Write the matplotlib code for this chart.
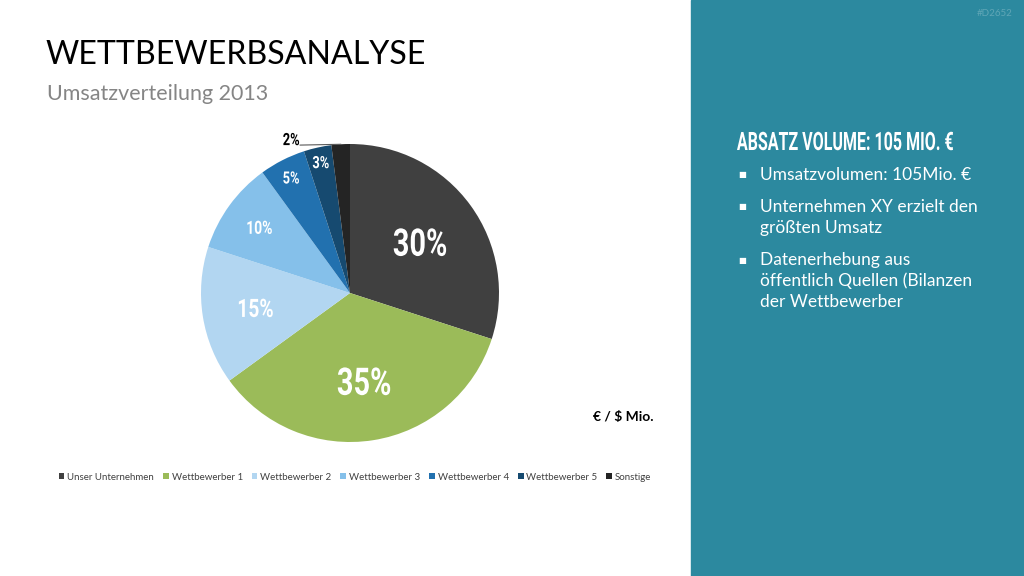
import matplotlib.pyplot as plt
from matplotlib.patches import Rectangle, PathPatch
from matplotlib.textpath import TextPath
from matplotlib.font_manager import FontProperties
from matplotlib.transforms import Affine2D
import numpy as np

# ── data ─────────────────────────────────────────────────────────────────────
categories = ["Unser Unternehmen", "Wettbewerber 1", "Wettbewerber 2",
              "Wettbewerber 3", "Wettbewerber 4", "Wettbewerber 5", "Sonstige"]
shares = [30, 35, 15, 10, 5, 3, 2]
colors = ["#404040", "#9BBB59", "#B2D6F1", "#85C0EA", "#2271AF", "#164A70", "#242424"]

# label styling per slice: cap height (px), radial distance, colour
label_caps = [27, 27, 18, 13, 12, 12, 12]
label_dist = [0.58, 0.60, 0.64, 0.75, 0.87, 0.90, 1.035]
label_colors = ["white"] * 6 + ["black"]

bullets = ["Umsatzvolumen: 105Mio. €",
           "Unternehmen XY erzielt den\ngrößten Umsatz",
           "Datenerhebung aus\nöffentlich Quellen (Bilanzen\nder Wettbewerber"]

W, H = 1024, 576
BODY = ["Lato", "DejaVu Sans"]
NARROW_FP = FontProperties(family=["Roboto", "DejaVu Sans"], weight="bold")
CAP = 0.71  # cap height / em


def narrow_text(ax, x, y, s, cap_px, color, sx=0.76, ha="center", width=None):
    """condensed bold text drawn as a squeezed path (no narrow font installed)"""
    tp = TextPath((0, 0), s, size=cap_px / CAP, prop=NARROW_FP)
    bb = tp.get_extents()
    if width is not None:
        sx = width / bb.width
    x0 = bb.x0 if ha == "left" else (bb.x0 + bb.x1) / 2
    tr = (Affine2D().translate(-x0, -(bb.y0 + bb.y1) / 2)
          .scale(sx, -1).translate(x, y))
    ax.add_patch(PathPatch(tr.transform_path(tp), facecolor=color,
                           edgecolor="none", zorder=5))


fig = plt.figure(figsize=(W / 100, H / 100), dpi=100)
fig.patch.set_facecolor("white")

# background panel
panel = fig.add_axes([0, 0, 1, 1], zorder=0)
panel.set_xlim(0, W)
panel.set_ylim(H, 0)
panel.axis("off")
panel.add_patch(Rectangle((691, 0), W - 691, H, color="#2C899F", zorder=0))

# ── pie ──────────────────────────────────────────────────────────────────────
cx, cy, r = 350, 293, 149
ax = fig.add_axes([(cx - r) / W, (H - cy - r) / H, 2 * r / W, 2 * r / H], zorder=1)
wedges, _ = ax.pie(shares, colors=colors, startangle=90, counterclock=False,
                   wedgeprops=dict(linewidth=0))
ax.set_xlim(-1, 1)
ax.set_ylim(-1, 1)
ax.set_aspect("equal")
ax.axis("off")

# text overlay in pixel coordinates (y down)
bg = fig.add_axes([0, 0, 1, 1], zorder=2)
bg.set_xlim(0, W)
bg.set_ylim(H, 0)
bg.axis("off")

bg.text(45, 55, "WETTBEWERBSANALYSE", fontsize=23.1, family=BODY,
        color="black", va="center")
bg.text(47, 94, "Umsatzverteilung 2013", fontsize=15.5, family=BODY,
        color="#858585", va="center")
bg.text(1013, 14, "#D2652", fontsize=7, family=BODY, color="#5FA6B6",
        ha="right", va="center")

narrow_text(bg, 737, 141, "ABSATZ VOLUME: 105 MIO. €", 18, "white",
            ha="left", width=216)
y = 175
for b in bullets:
    bg.text(742, y, "■", fontsize=6, family=["DejaVu Sans"], color="white",
            va="center", ha="center")
    bg.text(760, y - 8, b, fontsize=12.5, family=BODY, color="white",
            va="top", linespacing=1.36)
    y += 21 * (b.count("\n") + 1) + 11

bg.text(623, 417, "€ / $ Mio.", fontsize=10, family=BODY, fontweight="bold",
        color="black", ha="center", va="center")

for w, pct, cap, d, c in zip(wedges, shares, label_caps, label_dist, label_colors):
    ang = np.deg2rad((w.theta1 + w.theta2) / 2)
    lx, ly = cx + d * r * np.cos(ang), cy - d * r * np.sin(ang)
    if d > 1:
        # outside label with leader line
        lx -= 0.33 * r
        ex, ey = cx + r * np.cos(ang), cy - r * np.sin(ang)
        bg.plot([lx + 9, ex], [ly + 6, ey], color="#595959", lw=0.8, zorder=4)
    narrow_text(bg, lx, ly, f"{pct}%", cap, c)

leg = fig.legend(wedges, categories, loc="center",
                 bbox_to_anchor=(355 / W, 1 - 477 / H),
                 ncol=7, frameon=False, handlelength=0.6,
                 handleheight=0.6, handletextpad=0.3, columnspacing=0.9,
                 prop=dict(family=BODY, size=7))
for t in leg.get_texts():
    t.set_color("#404040")

fig.savefig("out.png", dpi=100, facecolor="white")
